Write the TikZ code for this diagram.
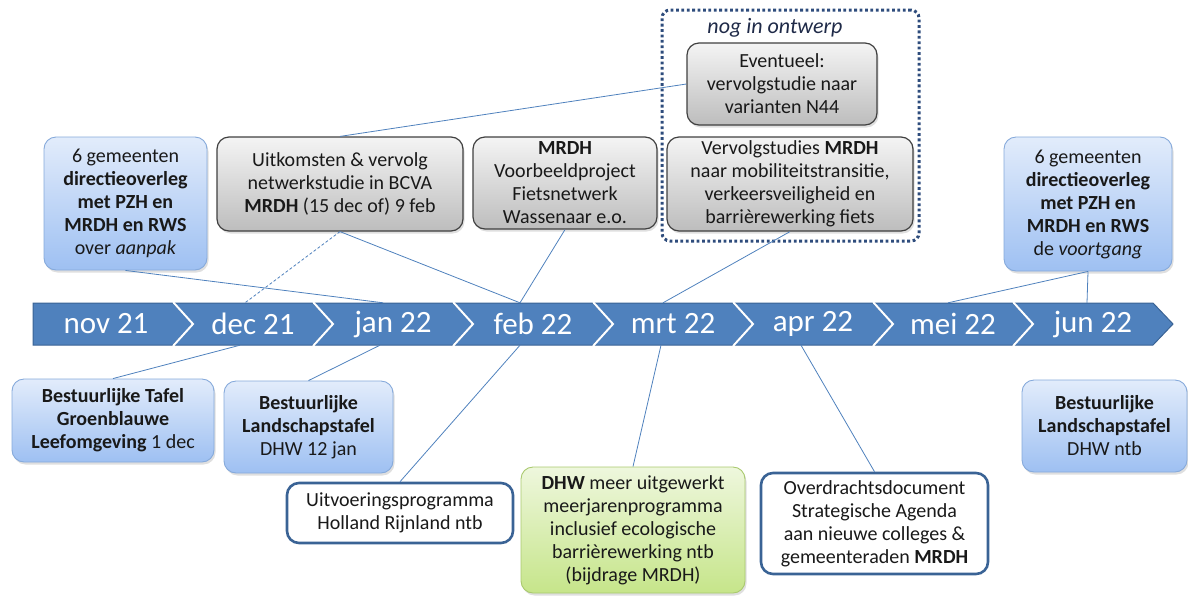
\documentclass[tikz,border=0pt]{standalone}
\usepackage{fontspec}
\setmainfont{Carlito}
\usetikzlibrary{shadows}
\definecolor{bandblue}{HTML}{4F81BD}
\definecolor{bandedge}{HTML}{3A6395}
\definecolor{linkblue}{HTML}{4F81BD}
\definecolor{bluetop}{HTML}{E2ECFB}
\definecolor{bluebot}{HTML}{9EC0F2}
\definecolor{blueedge}{HTML}{86AADB}
\definecolor{greytop}{HTML}{F4F4F4}
\definecolor{greybot}{HTML}{BDBDBD}
\definecolor{greentop}{HTML}{EEF7DD}
\definecolor{greenbot}{HTML}{C6E58A}
\definecolor{greenedge}{HTML}{A9C96E}
\definecolor{navy}{HTML}{2E4C7C}
\definecolor{darknavy}{HTML}{1F2A48}

\begin{document}
\begin{tikzpicture}[x=1pt,y=-1pt,
  txt/.style={font=\fontsize{20}{23}\selectfont,align=center,inner sep=0pt,text=black!90},
  shade/.style={drop shadow={opacity=0.25,shadow xshift=1.5pt,shadow yshift=-2.5pt}},
  bluebox/.style={txt,shade,rounded corners=12pt,draw=blueedge,line width=0.9pt,top color=bluetop,bottom color=bluebot},
  greybox/.style={txt,shade,rounded corners=12pt,draw=black!75,line width=1.2pt,top color=greytop,bottom color=greybot},
  greenbox/.style={txt,shade,rounded corners=12pt,draw=greenedge,line width=0.9pt,top color=greentop,bottom color=greenbot},
  whitebox/.style={txt,rounded corners=12pt,draw=bandedge,line width=2.6pt,fill=white},
  draftframe/.style={draw=navy,line width=3pt,dash pattern=on 2.8pt off 2.6pt,rounded corners=8pt},
  month/.style={font=\fontsize{31}{36}\selectfont,text=white,inner sep=0pt,minimum height=42pt},
  link/.style={draw=linkblue,line width=0.8pt}]
\useasboundingbox (0,0) rectangle (1188,595);

% tijdlijn
\foreach \mon [count=\k from 0] in {nov 21,dec 21,jan 22,feb 22,mrt 22,apr 22,mei 22,jun 22}{
  \pgfmathsetmacro\L{33+140*\k}
  \pgfmathsetmacro\n{\k>0 ? 20 : 0}
  \pgfmathsetmacro\c{\k>0 ? \L+80 : 106}
  \filldraw[fill=bandblue,draw=bandedge,line width=1pt] (\L,303) -- (\L+140,303) -- (\L+160,324) -- (\L+140,345) -- (\L,345) -- (\L+\n,324) -- cycle;
  \ifnum\k>0 \draw[white,line width=2pt] (\L,302) -- (\L+20,324) -- (\L,346); \fi
  \node[month] (m\k) at (\c,324) {\mon};
}

% nog in ontwerp
\node[draftframe,minimum width=257pt,minimum height=231pt] (ontwerp) at (790.5,125.5) {};
\node[txt,text=darknavy,font=\fontsize{22}{26}\selectfont] (ontwlabel) at (775,28) {\itshape nog in ontwerp};

% boven
\node[bluebox,minimum width=163pt,minimum height=133pt] (overlegL) at (125.5,203.5)
  {6 gemeenten\\ \textbf{directieoverleg}\\ \textbf{met PZH en}\\ \textbf{MRDH en RWS}\\ over \textit{aanpak}};
\node[greybox,minimum width=246pt,minimum height=94pt] (uitkomst) at (340,184)
  {Uitkomsten \& vervolg\\ netwerkstudie in BCVA\\ \textbf{MRDH} (15 dec of) 9 feb};
\node[greybox,minimum width=184pt,minimum height=92pt] (voorbeeld) at (565,183)
  {\textbf{MRDH}\\ Voorbeeldproject\\ Fietsnetwerk\\ Wassenaar e.o.};
\node[greybox,minimum width=190pt,minimum height=82pt] (eventueel) at (782,84)
  {Eventueel:\\ vervolgstudie naar\\ varianten N44};
\node[greybox,minimum width=246pt,minimum height=94pt] (vervolg) at (790,184)
  {Vervolgstudies \textbf{MRDH}\\ naar mobiliteitstransitie,\\ verkeersveiligheid en\\ barrièrewerking fiets};
\node[bluebox,minimum width=168pt,minimum height=134pt] (overlegR) at (1088,204)
  {6 gemeenten\\ \textbf{directieoverleg}\\ \textbf{met PZH en}\\ \textbf{MRDH en RWS}\\ de \textit{voortgang}};

% onder
\node[bluebox,minimum width=202pt,minimum height=83pt] (tafel) at (113,420.5)
  {\textbf{Bestuurlijke Tafel}\\ \textbf{Groenblauwe}\\ \textbf{Leefomgeving} 1 dec};
\node[bluebox,minimum width=169pt,minimum height=92pt] (landschapA) at (308.5,427)
  {\textbf{Bestuurlijke}\\ \textbf{Landschapstafel}\\ DHW 12 jan};
\node[whitebox,minimum width=226pt,minimum height=60pt] (uitvoering) at (400,513)
  {Uitvoeringsprogramma\\ Holland Rijnland ntb};
\node[greenbox,minimum width=224pt,minimum height=126pt] (dhw) at (633,530)
  {\textbf{DHW} meer uitgewerkt\\ meerjarenprogramma\\ inclusief ecologische\\ barrièrewerking ntb\\ (bijdrage MRDH)};
\node[whitebox,minimum width=227pt,minimum height=101pt] (overdracht) at (874.5,523.5)
  {Overdrachtsdocument\\ Strategische Agenda\\ aan nieuwe colleges \&\\ gemeenteraden \textbf{MRDH}};
\node[bluebox,minimum width=165pt,minimum height=92pt] (landschapB) at (1104.5,426)
  {\textbf{Bestuurlijke}\\ \textbf{Landschapstafel}\\ DHW ntb};

% verbindingen
\draw[link] (overlegL.south) -- ([xshift=-10pt]m2.north);
\draw[link] (uitkomst.south) -- ([xshift=-13pt]m3.north);
\draw[link,densely dashed] (uitkomst.south) -- ([xshift=-8pt]m1.north);
\draw[link] (uitkomst.north) -- (eventueel.west);
\draw[link] (voorbeeld.south) -- ([xshift=-13pt]m3.north);
\draw[link] (vervolg.south) -- ([xshift=-10pt]m4.north);
\draw[link] (overlegR.south) -- ([xshift=-5pt]m6.north);
\draw[link] (overlegR.south) -- ([xshift=-6pt]m7.north);
\draw[link] ([xshift=-13pt]m1.south) -- (tafel.north);
\draw[link] ([xshift=-13pt]m2.south) -- (landschapA.north);
\draw[link] ([xshift=-13pt]m3.south) -- (uitvoering.north);
\draw[link] ([xshift=-12pt]m4.south) -- (dhw.north);
\draw[link] ([xshift=-12pt]m5.south) -- (overdracht.north);
\end{tikzpicture}
\end{document}
